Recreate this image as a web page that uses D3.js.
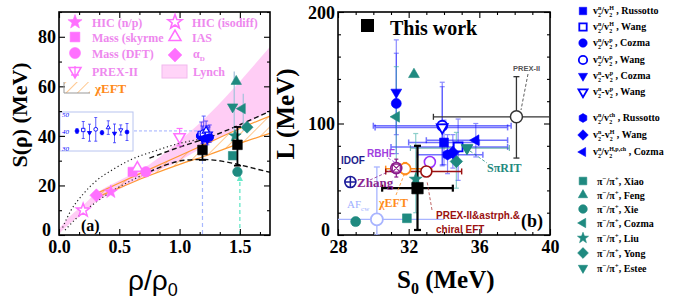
<!DOCTYPE html>
<html><head><meta charset="utf-8">
<script src="https://cdn.jsdelivr.net/npm/d3@7"></script>
<style>body{margin:0;background:#fff}svg{display:block}</style>
</head><body><svg id="c" width="674" height="303"></svg>
<script>
// ================= DATA =================
// Panel (a): S(rho) vs rho/rho0
const xTicksA = [0, 0.5, 1.0, 1.5];
const yTicksA = [0, 20, 40, 60, 80];
const lynchRho  = [0, 0.1, 0.2, 0.3, 0.5, 0.75, 1.0, 1.25, 1.5, 1.75];
const lynchLow  = [0.5, 5, 9, 13, 18.5, 24.5, 30, 37, 43.5, 50];
const lynchHigh = [2.5, 8, 12, 16.5, 22, 28.5, 38, 49, 62, 76];
const chiRho  = [0.3, 0.5, 0.75, 1.0, 1.25, 1.5, 1.75];
const chiLow  = [15, 19, 24, 28.5, 32.5, 37, 41];
const chiHigh = [16.5, 21, 26.5, 32, 37.5, 43, 48];
const dashUpRho = [0.75, 1.0, 1.25, 1.5, 1.75];
const dashUpS   = [31, 35.5, 39.5, 44.5, 50];
const dashLoRho = [0.75, 0.9, 1.05, 1.2, 1.35, 1.5, 1.65, 1.75];
const dashLoS   = [25.5, 28.5, 30.2, 30.5, 29.8, 28.3, 26.5, 25.3];
const dotUpRho = [0.03, 0.1, 0.2, 0.3, 0.45, 0.6, 0.8, 1.0, 1.15];
const dotUpS   = [3, 10, 16.5, 21.5, 26.5, 30.5, 34, 37, 38.5];
const dotLoRho = [0.05, 0.15, 0.3, 0.45, 0.6, 0.75];
const dotLoS   = [2, 7, 13, 18, 22, 25.5];
const pinkNames = ["HIC (n/p)", "HIC (isodiff)", "Mass (skyrme", "IAS", "Mass (DFT)", "αD", "PREX-II"];
const pinkRho   = [0.43, 0.20, 0.61, 0.65, 0.72, 0.31, 1.0];
const pinkS     = [17.4, 10, 25.5, 27, 25.5, 16, 39.6];
const workRho = [1.19, 1.48];
const workS   = [34.3, 36.4];
const workLo  = [30.3, 28.0];
const workHi  = [38.3, 43.6];
const tealARho = [1.47, 1.44, 1.52, 1.56, 1.46, 1.44, 1.48];
const tealAS   = [62, 51.7, 51, 43.5, 40, 32, 25.5];
const insetS   = [40.0, 40.6, 39.0, 41.0, 39.0, 42.0, 38.6, 40.6, 39.4];
const insetErr = [1.5, 5, 5, 7, 1.2, 4, 5.5, 3, 5];
const clusterRho = [1.17, 1.18, 1.19, 1.2, 1.21, 1.22, 1.23, 1.24, 1.25];

// Panel (b): L vs S0
const xTicksB = [28, 32, 36, 40];
const yTicksB = [0, 100, 200];
const blueAuthor = ["Russotto", "Wang", "Cozma", "Wang", "Cozma", "Wang", "Russotto", "Wang", "Cozma"];
const blueOp     = ["/", "/", "/", "/", "-", "-", "/", "-", "/"];
const blueDen    = ["H", "H", "p", "p", "p", "p", "ch", "H", "H,p,ch"];
const blueS0   = [34.0, 34.8, 31.3, 33.9, 31.3, 33.9, 34.2, 34.5, 35.8];
const blueL    = [83, 79, 118, 98, 128, 96.5, 72, 74, 85];
const blueS0Lo = [32.0, 31.0, null, 30.0, null, 30.1, 32.5, null, 33.0];
const blueS0Hi = [36.0, 37.6, null, 37.8, null, 37.6, 36.2, null, 37.6];
const blueLLo  = [63, 49, 73, 63, 90, 62, 55, 60, 70];
const blueLHi  = [103, 104, 163, 137, 175, 133, 90, 90, 100];
const tealAuthor = ["Xiao", "Feng", "Xie", "Cozma", "Liu", "Yong", "Estee"];
const tealS0   = [31.9, 32.3, 29.0, 31.3, 32.4, 34.7, 35.3];
const tealL    = [15, 144, 12, 106, 50, 66, 78];
const tealS0Lo = [null, null, null, null, null, null, 32.1];
const tealS0Hi = [null, null, null, null, null, null, 37.7];
const tealLLo  = [null, null, null, 60, 20, 42, null];
const tealLHi  = [null, null, null, 151, 91, 92, null];
const extraNames = ["PREX-II", "Zhang", "AFcw", "RBHF", "χEFT", "IDOF", "PREX-II&astrph.&chiral EFT"];
const extraS0   = [38.1, 28.7, 30.2, 31.3, 31.8, 33.2, 33.0];
const extraL    = [106, 47.5, 14, 60, 59.5, 65.5, 57];
const extraS0Lo = [33.4, null, 28.0, null, 30.7, null, 30.7];
const extraS0Hi = [41.0, null, 34.0, null, 33.3, null, 35.0];
const extraLLo  = [69, null, 0, 52, 54, null, null];
const extraLHi  = [142, null, 61, 68, 65, null, null];
const thisS0 = [32.5], thisL = [42], thisS0Lo = [30.5], thisS0Hi = [34.5], thisLLo = [4.5], thisLHi = [80];

// ================= DRAWING =================
const svg = d3.select("#c");
svg.append("rect").attr("width", 674).attr("height", 303).attr("fill", "#fff");
const SERIF = "'Liberation Serif','Times New Roman',serif";
const SANS = "'Liberation Sans',Arial,sans-serif";
const PINK = "#ff70ff", PINKT = "#ee88ee", ORANGE = "#ff9933", TEAL = "#1f8a80", BLUE = "#0000ff";

const xA = d3.scaleLinear().domain([0, 1.75]).range([59, 270]);
const yA = d3.scaleLinear().domain([0, 90]).range([235, 12]);
const xB = d3.scaleLinear().domain([28, 40]).range([338, 550]);
const yB = d3.scaleLinear().domain([0, 200]).range([235, 12]);

const defs = svg.append("defs");
defs.append("clipPath").attr("id", "clipA").append("rect").attr("x", 59).attr("y", 12).attr("width", 211).attr("height", 223);
defs.append("clipPath").attr("id", "clipB").append("rect").attr("x", 338).attr("y", 12).attr("width", 212).attr("height", 223);
const hatch = defs.append("pattern").attr("id", "hatch").attr("patternUnits", "userSpaceOnUse")
  .attr("width", 8).attr("height", 8).attr("patternTransform", "rotate(45)");
hatch.append("line").attr("x1", 0).attr("y1", 0).attr("x2", 0).attr("y2", 8).attr("stroke", ORANGE).attr("stroke-width", 1.1);
const arrowM = defs.append("marker").attr("id", "arr").attr("viewBox", "0 0 10 10").attr("refX", 5).attr("refY", 5)
  .attr("markerWidth", 5).attr("markerHeight", 5).attr("orient", "auto-start-reverse");
arrowM.append("path").attr("d", "M0,0L10,5L0,10Z").attr("fill", "#66e8c8");

function shapePath(type, r) {
  const pts = (n, rad, rot) => d3.range(n).map(i => { const a = rot + i * 2 * Math.PI / n; return [rad * Math.sin(a), -rad * Math.cos(a)]; });
  const poly = p => "M" + p.map(q => q[0].toFixed(2) + "," + q[1].toFixed(2)).join("L") + "Z";
  switch (type) {
    case "circle": return `M${r},0A${r},${r} 0 1,1 ${-r},0A${r},${r} 0 1,1 ${r},0Z`;
    case "square": { const s = r * 0.88; return `M${-s},${-s}H${s}V${s}H${-s}Z`; }
    case "triUp": return poly(pts(3, r * 1.25, 0));
    case "triDown": return poly(pts(3, r * 1.25, Math.PI));
    case "triLeft": return poly(pts(3, r * 1.25, -Math.PI / 2));
    case "diamond": return poly(pts(4, r * 1.25, 0));
    case "hexagon": return poly(pts(6, r * 1.05, 0));
    case "star": {
      const p = d3.range(10).map(i => { const a = i * Math.PI / 5; const rr = i % 2 ? r * 0.55 : r * 1.35; return [rr * Math.sin(a), -rr * Math.cos(a)]; });
      return poly(p);
    }
  }
  return "";
}
function mark(g, type, x, y, r, color, open, sw) {
  g.append("path").attr("transform", `translate(${x},${y})`).attr("d", shapePath(type, r))
    .attr("fill", open ? "#fff" : color).attr("stroke", color).attr("stroke-width", sw || (open ? 1.3 : 0.6));
}
function vbar(g, x, y1, y2, color, w, cap, op) {
  const s = g.append("g").attr("stroke", color).attr("stroke-width", w).attr("opacity", op == null ? 1 : op);
  s.append("line").attr("x1", x).attr("x2", x).attr("y1", y1).attr("y2", y2);
  if (cap) { [y1, y2].forEach(y => s.append("line").attr("x1", x - cap).attr("x2", x + cap).attr("y1", y).attr("y2", y)); }
}
function hbar(g, y, x1, x2, color, w, cap, op) {
  const s = g.append("g").attr("stroke", color).attr("stroke-width", w).attr("opacity", op == null ? 1 : op);
  s.append("line").attr("x1", x1).attr("x2", x2).attr("y1", y).attr("y2", y);
  if (cap) { [x1, x2].forEach(x => s.append("line").attr("x1", x).attr("x2", x).attr("y1", y - cap).attr("y2", y + cap)); }
}

// ---------- Panel A ----------
const gA = svg.append("g");
const pA = gA.append("g").attr("clip-path", "url(#clipA)");
const lynchData = lynchRho.map((r, i) => [r, lynchLow[i], lynchHigh[i]]);
pA.append("path").datum(lynchData)
  .attr("d", d3.area().x(d => xA(d[0])).y0(d => yA(d[1])).y1(d => yA(d[2])).curve(d3.curveMonotoneX))
  .attr("fill", "#ffc8f4").attr("opacity", 0.9);
const chiData = chiRho.map((r, i) => [r, chiLow[i], chiHigh[i]]);
const chiArea = d3.area().x(d => xA(d[0])).y0(d => yA(d[1])).y1(d => yA(d[2])).curve(d3.curveMonotoneX);
pA.append("path").datum(chiData).attr("d", chiArea).attr("fill", "url(#hatch)");
[1, 2].forEach(k => pA.append("path").datum(chiData)
  .attr("d", d3.line().x(d => xA(d[0])).y(d => yA(d[k])).curve(d3.curveMonotoneX))
  .attr("fill", "none").attr("stroke", ORANGE).attr("stroke-width", 1.2));
const lineA = d3.line().x(d => xA(d[0])).y(d => yA(d[1])).curve(d3.curveMonotoneX);
pA.append("path").datum(dotUpRho.map((r, i) => [r, dotUpS[i]])).attr("d", lineA)
  .attr("fill", "none").attr("stroke", "#222").attr("stroke-width", 1.2).attr("stroke-dasharray", "1.2,2.6");
pA.append("path").datum(dotLoRho.map((r, i) => [r, dotLoS[i]])).attr("d", lineA)
  .attr("fill", "none").attr("stroke", "#222").attr("stroke-width", 1.2).attr("stroke-dasharray", "1.2,2.6");
pA.append("path").datum(dashUpRho.map((r, i) => [r, dashUpS[i]])).attr("d", lineA)
  .attr("fill", "none").attr("stroke", "#111").attr("stroke-width", 1.4).attr("stroke-dasharray", "5,3");
pA.append("path").datum(dashLoRho.map((r, i) => [r, dashLoS[i]])).attr("d", lineA)
  .attr("fill", "none").attr("stroke", "#111").attr("stroke-width", 1.4).attr("stroke-dasharray", "5,3");

pA.append("line").attr("x1", xA(workRho[0])).attr("x2", xA(workRho[0])).attr("y1", yA(workLo[0])).attr("y2", yA(0))
  .attr("stroke", "#a8b8ff").attr("stroke-width", 1.2).attr("stroke-dasharray", "4,3");
pA.append("line").attr("x1", xA(1.5)).attr("x2", xA(1.5)).attr("y1", yA(0)).attr("y2", yA(23))
  .attr("stroke", "#66e8c8").attr("stroke-width", 1.3).attr("stroke-dasharray", "4,3").attr("marker-end", "url(#arr)");
pA.append("line").attr("x1", 134).attr("x2", xA(clusterRho[0])).attr("y1", yA(42)).attr("y2", yA(42))
  .attr("stroke", "#a0b0ff").attr("stroke-width", 1).attr("stroke-dasharray", "3,2");

vbar(pA, xA(1.47) - 2, yA(66), yA(40), "#a9c2dc", 1.3, 0);
vbar(pA, xA(1.52) + 1, yA(57), yA(42), "#a9c2dc", 1.3, 0);
const tealShapesA = ["triUp", "triDown", "triLeft", "diamond", "star", "square", "circle"];
tealARho.forEach((r, i) => mark(pA, tealShapesA[i], xA(r), yA(tealAS[i]), 4.8, TEAL, false));

workRho.forEach((r, i) => {
  vbar(pA, xA(r), yA(workHi[i]), yA(workLo[i]), "#000", 1.8, 3.5);
  mark(pA, "square", xA(r), yA(workS[i]), 5.5, "#000", false);
});

const insetShapes = ["circle", "square", "triDown", "circle", "hexagon", "triUp", "triDown", "triDown", "circle"];
const insetOpen = [false, true, false, true, false, true, false, true, false];
clusterRho.forEach((r, i) => {
  vbar(pA, xA(r), yA(insetS[i] + insetErr[i]), yA(insetS[i] - insetErr[i] * 0.4), BLUE, 0.9, 2, 0.7);
});
clusterRho.forEach((r, i) => mark(pA, insetShapes[i], xA(r), yA(insetS[i]), 3.6, BLUE, insetOpen[i], 1.2));

const pinkShapes = ["star", "star", "square", "triUp", "circle", "diamond", "triDown"];
const pinkOpen = [false, true, false, true, false, false, true];
vbar(pA, xA(pinkRho[6]), yA(43), yA(36), PINK, 1.2, 3);
pinkRho.forEach((r, i) => mark(pA, pinkShapes[i], xA(r), yA(pinkS[i]), 5.2, PINK, pinkOpen[i], pinkOpen[i] ? 1.5 : 0.6));

// inset
const gIn = gA.append("g");
const yIn = d3.scaleLinear().domain([30, 50]).range([148, 114]);
gIn.append("rect").attr("x", 60).attr("y", 112).attr("width", 73).attr("height", 39)
  .attr("fill", "#fff").attr("stroke", "#b8c4f0").attr("stroke-width", 1);
[30, 40, 50].forEach(v => gIn.append("text").attr("x", 62).attr("y", yIn(v) + 2.5).text(v)
  .attr("font-family", SERIF).attr("font-size", 7).attr("font-style", "italic").attr("fill", BLUE));
const xIn = d3.scaleLinear().domain([0, 8]).range([77, 127]);
insetS.forEach((v, i) => vbar(gIn, xIn(i), yIn(v + insetErr[i]), yIn(v - insetErr[i]), BLUE, 0.8, 1.5, 0.8));
insetS.forEach((v, i) => mark(gIn, insetShapes[i], xIn(i), yIn(v), 1.9, BLUE, insetOpen[i], 0.9));

// frame + axes
function axesFor(g, x, y, xMaj, xMin, yMaj, yMin, xFmt) {
  const x0 = x.range()[0], x1 = x.range()[1], y0 = y.range()[0], y1 = y.range()[1];
  const mk = (axis, tr, vals, size, fmt) => {
    const a = g.append("g").attr("transform", tr).call(axis.tickValues(vals).tickSizeInner(size).tickSizeOuter(0).tickPadding(3).tickFormat(fmt));
    a.select(".domain").remove();
    a.selectAll("line").attr("stroke", "#000").attr("stroke-width", 1.1);
    a.selectAll("text").attr("font-family", SERIF).attr("font-weight", "bold").attr("font-size", 18).attr("fill", "#000");
    return a;
  };
  const none = () => "";
  const bx = mk(d3.axisBottom(x), `translate(0,${y0})`, xMaj, -6, xFmt);
  bx.selectAll("text").attr("dy", "0.85em");
  mk(d3.axisBottom(x), `translate(0,${y0})`, xMin, -3, none);
  mk(d3.axisTop(x), `translate(0,${y1})`, xMaj, -6, none);
  mk(d3.axisTop(x), `translate(0,${y1})`, xMin, -3, none);
  const ly = mk(d3.axisLeft(y), `translate(${x0},0)`, yMaj, -6, d3.format("d"));
  ly.selectAll("text").attr("dy", d => d === 0 ? "0.05em" : "0.34em").attr("x", d => d === 0 ? -8 : -3);
  mk(d3.axisLeft(y), `translate(${x0},0)`, yMin, -3, none);
  mk(d3.axisRight(y), `translate(${x1},0)`, yMaj, -6, none);
  mk(d3.axisRight(y), `translate(${x1},0)`, yMin, -3, none);
  g.append("rect").attr("x", x0).attr("y", y1).attr("width", x1 - x0).attr("height", y0 - y1)
    .attr("fill", "none").attr("stroke", "#000").attr("stroke-width", 1.6);
}
axesFor(gA, xA, yA, xTicksA, d3.range(1, 11).map(i => i * 1 / 6).filter(v => !xTicksA.some(t => Math.abs(t - v) < 1e-6)),
  yTicksA, [10, 30, 50, 70, 90], d3.format(".1f"));
axesFor(svg.append("g"), xB, yB, xTicksB, d3.range(29, 40).filter(v => !xTicksB.includes(v)),
  yTicksB, d3.range(20, 200, 20).filter(v => v !== 100), d3.format("d"));

// legend A
const lg = gA.append("g");
const legA1 = [["star", false, 0], ["square", false, 2], ["circle", false, 4], ["triDown", true, 6]];
const legA1y = [22, 37, 53, 71];
legA1.forEach((d, i) => {
  mark(lg, d[0], 75, legA1y[i], 5.5, PINK, d[1], d[1] ? 1.6 : 0.6);
  lg.append("text").attr("x", 92).attr("y", legA1y[i] + 4.5).text(pinkNames[d[2]])
    .attr("font-family", SERIF).attr("font-weight", "bold").attr("font-size", 12).attr("fill", PINKT);
});
lg.append("line").attr("x1", 75).attr("x2", 75).attr("y1", 66).attr("y2", 78).attr("stroke", PINK).attr("stroke-width", 1.3);
lg.append("line").attr("x1", 71).attr("x2", 79).attr("y1", 75).attr("y2", 75).attr("stroke", PINK).attr("stroke-width", 1.3);
const legA2 = [["star", true, 1], ["triUp", true, 3], ["diamond", false, 5]];
const legA2y = [22, 37, 55];
legA2.forEach((d, i) => {
  mark(lg, d[0], 175, legA2y[i], 5.5, PINK, d[1], d[1] ? 1.6 : 0.6);
  if (d[2] !== 5) lg.append("text").attr("x", 192).attr("y", legA2y[i] + 4.5).text(pinkNames[d[2]])
    .attr("font-family", SERIF).attr("font-weight", "bold").attr("font-size", 12).attr("fill", PINKT);
});
const aD = lg.append("text").attr("x", 193).attr("y", 58).attr("font-family", SERIF).attr("font-weight", "bold").attr("font-size", 12).attr("fill", PINKT);
aD.append("tspan").text("α");
aD.append("tspan").attr("dy", 3).attr("font-size", 7).text("D");
lg.append("rect").attr("x", 162).attr("y", 65).attr("width", 25).attr("height", 13).attr("fill", "#ffd4f8").attr("stroke", "#f2b8ee");
lg.append("text").attr("x", 193).attr("y", 76).text("Lynch")
  .attr("font-family", SERIF).attr("font-weight", "bold").attr("font-size", 12).attr("fill", PINKT);
lg.append("rect").attr("x", 64).attr("y", 82).attr("width", 26).attr("height", 11).attr("fill", "url(#hatch)");
lg.append("path").attr("d", "M64,82V93H90").attr("fill", "none").attr("stroke", "#999").attr("stroke-width", 1);
lg.append("text").attr("x", 95).attr("y", 93).text("χEFT")
  .attr("font-family", SERIF).attr("font-weight", "bold").attr("font-size", 13).attr("fill", "#ff8a1a");

gA.append("text").attr("x", 81).attr("y", 231).text("(a)").attr("font-family", SERIF).attr("font-weight", "bold").attr("font-size", 16);
gA.append("text").attr("transform", "translate(27,115) rotate(-90)").attr("text-anchor", "middle").text("S(ρ) (MeV)")
  .attr("font-family", SERIF).attr("font-weight", "bold").attr("font-size", 22);
const xlA = gA.append("text").attr("x", 128).attr("y", 290).attr("font-family", SANS).attr("font-size", 28);
xlA.append("tspan").text("ρ/ρ");
xlA.append("tspan").attr("dy", 6).attr("font-size", 18).text("0");

// ---------- Panel B ----------
const pB = svg.append("g").attr("clip-path", "url(#clipB)");
hbar(pB, yB(extraL[2]), xB(extraS0Lo[2]), xB(extraS0Hi[2]), "#a8b4ff", 1.3, 0);
vbar(pB, xB(extraS0[2]), yB(extraLHi[2]), yB(extraLLo[2]), "#a8b4ff", 1.3, 3);
blueS0.forEach((s, i) => {
  if (blueS0Lo[i] != null) hbar(pB, yB(blueL[i]), xB(blueS0Lo[i]), xB(blueS0Hi[i]), BLUE, 1.5, 3, 0.55);
  vbar(pB, xB(s), yB(blueLHi[i]), yB(blueLLo[i]), BLUE, 1.2, 2.5, 0.45);
});
tealS0.forEach((s, i) => {
  if (tealS0Lo[i] != null) hbar(pB, yB(tealL[i]), xB(tealS0Lo[i]), xB(tealS0Hi[i]), TEAL, 1.2, 3, 0.6);
  if (tealLLo[i] != null) vbar(pB, xB(s), yB(tealLHi[i]), yB(tealLLo[i]), "#40b0a8", 1.2, 2.5, 0.6);
});
hbar(pB, yB(extraL[0]), xB(extraS0Lo[0]), xB(extraS0Hi[0]), "#333", 1.3, 3);
vbar(pB, xB(extraS0[0]), yB(extraLHi[0]), yB(extraLLo[0]), "#333", 1.3, 3);
hbar(pB, yB(extraL[4]), xB(extraS0Lo[4]), xB(extraS0Hi[4]), "#ff8c1a", 1.5, 3);
vbar(pB, xB(extraS0[4]), yB(extraLHi[4]), yB(extraLLo[4]), "#ff8c1a", 1.2, 2);
vbar(pB, xB(extraS0[3]), yB(extraLHi[3]), yB(extraLLo[3]), "#8a1a8a", 1.2, 2);
hbar(pB, yB(extraL[6]), xB(extraS0Lo[6]), xB(extraS0Hi[6]), "#9a1010", 1.4, 3);
hbar(pB, yB(thisL[0]), xB(thisS0Lo[0]), xB(thisS0Hi[0]), "#000", 2.2, 3.5);
vbar(pB, xB(thisS0[0]), yB(thisLHi[0]), yB(thisLLo[0]), "#000", 2.2, 3.5);

const tealShapesB = ["square", "triUp", "circle", "triLeft", "star", "diamond", "triDown"];
tealS0.forEach((s, i) => mark(pB, tealShapesB[i], xB(s), yB(tealL[i]), 5, TEAL, false));
const blueShapes = ["square", "square", "circle", "circle", "triDown", "triDown", "hexagon", "diamond", "triLeft"];
const blueOpen = [false, true, false, true, false, true, false, false, false];
blueS0.forEach((s, i) => mark(pB, blueShapes[i], xB(s), yB(blueL[i]), 5, BLUE, blueOpen[i], blueOpen[i] ? 1.8 : 0.6));
mark(pB, "triDown", xB(tealS0[6]), yB(tealL[6]), 5.5, TEAL, false);
mark(pB, "square", xB(thisS0[0]), yB(thisL[0]), 6.5, "#000", false);
mark(pB, "circle", xB(extraS0[0]), yB(extraL[0]), 6, "#333", true, 1.5);
mark(pB, "circle", xB(extraS0[2]), yB(extraL[2]), 6, "#a8b4ff", true, 1.8);
mark(pB, "circle", xB(extraS0[4]), yB(extraL[4]), 5.5, "#ff8c1a", true, 1.8);
mark(pB, "circle", xB(extraS0[5]), yB(extraL[5]), 5.5, "#9933ff", true, 1.6);
mark(pB, "circle", xB(extraS0[6]), yB(extraL[6]), 5.5, "#9a1010", true, 1.6);
{
  const cx = xB(extraS0[3]), cy = yB(extraL[3]);
  mark(pB, "circle", cx, cy, 5.5, "#8a1a8a", true, 1.6);
  pB.append("path").attr("d", `M${cx - 4},${cy - 4}L${cx + 4},${cy + 4}M${cx + 4},${cy - 4}L${cx - 4},${cy + 4}M${cx - 4},${cy - 4}H${cx + 4}V${cy + 4}H${cx - 4}Z`)
    .attr("fill", "none").attr("stroke", "#8a1a8a").attr("stroke-width", 1.2);
}
{
  const cx = xB(extraS0[1]), cy = yB(extraL[1]);
  mark(pB, "circle", cx, cy, 5.5, "#1a1a99", true, 1.6);
  pB.append("path").attr("d", `M${cx - 5.5},${cy}H${cx + 5.5}M${cx},${cy - 5.5}V${cy + 5.5}`).attr("stroke", "#1a1a99").attr("stroke-width", 1.5);
}

const gB = svg.append("g");
const ann = (x, y, txt, col, fam, size) => gB.append("text").attr("x", x).attr("y", y).text(txt)
  .attr("font-family", fam).attr("font-weight", "bold").attr("font-size", size).attr("fill", col);
ann(341, 164, "IDOF", "#1c1c8c", SANS, 10);
ann(367, 157, "RBHF", "#a040e0", SANS, 10);
ann(357, 187, "Zhang", "#8b2590", SERIF, 13);
ann(379, 207, "χEFT", "#ff8c1a", SERIF, 12);
const af = gB.append("text").attr("x", 347).attr("y", 208).attr("font-family", SERIF).attr("font-size", 11).attr("fill", "#a0b0ff");
af.append("tspan").text("AF");
af.append("tspan").attr("dy", 3).attr("font-size", 7).text("cw");
ann(487, 172, "SπRIT", TEAL, SERIF, 12);
ann(513, 71, "PREX-II", "#555", SANS, 7.5);
ann(436, 219, "PREX-II&astrph.&", "#9a1010", SANS, 10);
ann(436, 233, "chiral EFT", "#9a1010", SANS, 10);
const dl = (x1, y1, x2, y2, col) => gB.append("line").attr("x1", x1).attr("y1", y1).attr("x2", x2).attr("y2", y2)
  .attr("stroke", col).attr("stroke-width", 0.8).attr("stroke-dasharray", "3,2");
dl(388, 158, 396, 163, "#a040e0");
dl(396, 195, 404, 175, "#ff8c1a");
dl(432, 210, 427, 181, "#b04040");
dl(528, 74, 521, 110, "#333");
dl(470, 151, 487, 163, TEAL);
dl(370, 180, 392, 170, "#8b2590");

gB.append("rect").attr("x", 361).attr("y", 19).attr("width", 13).attr("height", 13).attr("fill", "#000");
ann(390, 35, "This work", "#000", SERIF, 20);
ann(521, 227, "(b)", "#000", SERIF, 18);
gB.append("text").attr("transform", "translate(294,114) rotate(-90)").attr("text-anchor", "middle").text("L (MeV)")
  .attr("font-family", SERIF).attr("font-weight", "bold").attr("font-size", 25);
const xlB = gB.append("text").attr("x", 397).attr("y", 288).attr("font-family", SERIF).attr("font-weight", "bold").attr("font-size", 25);
xlB.append("tspan").text("S");
xlB.append("tspan").attr("dy", 6).attr("font-size", 16).text("0");
xlB.append("tspan").attr("dy", -6).text(" (MeV)");

// legend B
const lgB = svg.append("g").attr("font-family", SERIF).attr("font-weight", "bold").attr("font-size", 10);
const blueLegY = [11, 27, 43, 60, 76, 92, 118, 135, 152];
blueAuthor.forEach((a, i) => {
  mark(lgB, blueShapes[i], 583, blueLegY[i], 4.2, BLUE, blueOpen[i], blueOpen[i] ? 1.8 : 0.6);
  const t = lgB.append("text").attr("x", 593).attr("y", blueLegY[i] + 3);
  t.append("tspan").text("v");
  t.append("tspan").attr("font-size", 6).attr("dy", 2.5).text("2");
  t.append("tspan").attr("font-size", 6).attr("dx", -3).attr("dy", -7).text("n");
  t.append("tspan").attr("dy", 4.5).text(blueOp[i] + "v");
  t.append("tspan").attr("font-size", 6).attr("dy", 2.5).text("2");
  t.append("tspan").attr("font-size", 6).attr("dx", -3).attr("dy", -7).text(blueDen[i]);
  t.append("tspan").attr("dy", 4.5).text(" , " + a);
});
const tealLegY = [181, 195, 209, 223, 238, 253, 268];
tealAuthor.forEach((a, i) => {
  mark(lgB, tealShapesB[i], 583, tealLegY[i], 4.3, TEAL, false);
  const t = lgB.append("text").attr("x", 597).attr("y", tealLegY[i] + 3.5);
  t.append("tspan").text("π");
  t.append("tspan").attr("font-size", 7).attr("dy", -4).text("−");
  t.append("tspan").attr("dy", 4).text("/π");
  t.append("tspan").attr("font-size", 7).attr("dy", -4).text("+");
  t.append("tspan").attr("dy", 4).text(", " + a);
});
</script></body></html>
